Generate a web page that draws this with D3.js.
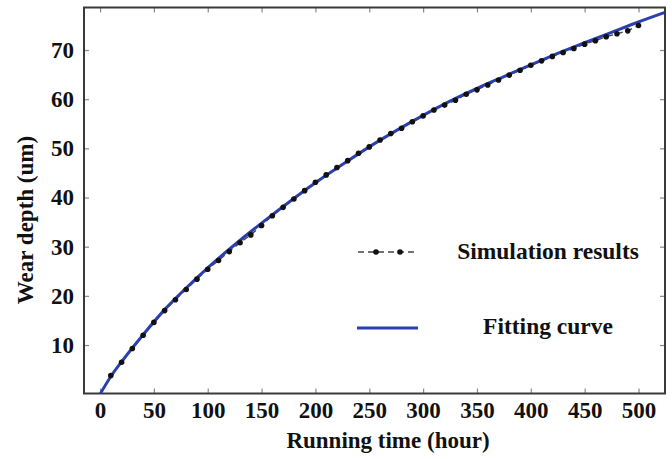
<!DOCTYPE html>
<html>
<head>
<meta charset="utf-8">
<script src="https://cdn.jsdelivr.net/npm/d3@7"></script>
<style>
  html, body { margin: 0; padding: 0; background: #fff; }
  svg { display: block; }
  text { font-family: "Liberation Serif", serif; font-weight: bold; fill: #111; }
</style>
</head>
<body>
<svg id="chart" width="672" height="459"></svg>
<script>
// ---- data ----
const simTime  = [10,20,30,40,50,60,70,80,90,100,110,120,130,140,150,160,170,180,190,200,
                  210,220,230,240,250,260,270,280,290,300,310,320,330,340,350,360,370,380,390,400,
                  410,420,430,440,450,460,470,480,490,500];
const simDepth = [3.8,6.5,9.3,12.0,14.6,17.0,19.2,21.3,23.4,25.4,27.2,29.0,30.8,32.4,34.3,36.3,38.0,39.7,41.4,43.1,
                  44.6,46.1,47.5,49.0,50.3,51.7,53.0,54.1,55.4,56.6,57.8,58.8,59.8,61.0,61.9,62.9,63.9,64.9,65.9,66.9,
                  67.8,68.7,69.5,70.3,71.2,71.9,72.7,73.3,73.9,75.0];
const fitTime  = [0,10,20,40,60,80,100,125,150,175,200,225,250,275,300,325,350,375,400,425,450,475,500,524];
const fitDepth = [0,3.6,6.6,12.1,17.2,21.6,25.7,30.4,34.8,39.0,43.0,46.7,50.3,53.6,56.7,59.6,62.2,64.6,67.0,69.3,71.5,73.6,75.7,77.6];
const xTickValues = [0,50,100,150,200,250,300,350,400,450,500];
const yTickValues = [10,20,30,40,50,60,70];
const seriesNames = ["Simulation results", "Fitting curve"];
const xTitle = "Running time (hour)";
const yTitle = "Wear depth (um)";

// ---- layout ----
const L = 84, R = 665, T = 7.5, B = 393.5;
const svg = d3.select("#chart");
const x = d3.scaleLinear().domain([-14.9, 524.6]).range([L, R]);
const y = d3.scaleLinear().domain([0.14, 78.65]).range([B, T]);

const blue = "#2b3fae";

function styleAxis(g) {
  g.select(".domain").remove();
  g.selectAll(".tick line").attr("stroke", "#8a8a8a").attr("stroke-width", 1.2);
  g.selectAll(".tick text").style("font-size", "23px").attr("fill", "#111");
}
svg.append("g").attr("transform", `translate(0,${B})`)
  .call(d3.axisBottom(x).tickValues(xTickValues).tickSize(-5).tickPadding(8))
  .call(styleAxis);
svg.append("g").attr("transform", `translate(0,${T})`)
  .call(d3.axisTop(x).tickValues(xTickValues).tickSize(-5).tickFormat(""))
  .call(styleAxis);
svg.append("g").attr("transform", `translate(${L},0)`)
  .call(d3.axisLeft(y).tickValues(yTickValues).tickSize(-5).tickPadding(10))
  .call(styleAxis);
svg.append("g").attr("transform", `translate(${R},0)`)
  .call(d3.axisRight(y).tickValues(yTickValues).tickSize(-5).tickFormat(""))
  .call(styleAxis);

svg.append("rect").attr("x", L).attr("y", T).attr("width", R - L).attr("height", B - T)
  .attr("fill", "none").attr("stroke", "#3a3a3a").attr("stroke-width", 2);

svg.append("clipPath").attr("id", "clip").append("rect")
  .attr("x", L).attr("y", T).attr("width", R - L).attr("height", B - T);

const plot = svg.append("g").attr("clip-path", "url(#clip)");

const simData = simTime.map((t, i) => [t, simDepth[i]]);
const fitData = fitTime.map((t, i) => [t, fitDepth[i]]);

plot.append("path").datum(simData)
  .attr("fill", "none").attr("stroke", "#444").attr("stroke-width", 1.3)
  .attr("stroke-dasharray", "6,4")
  .attr("d", d3.line().x(d => x(d[0])).y(d => y(d[1])));

plot.append("path").datum(fitData)
  .attr("fill", "none").attr("stroke", blue).attr("stroke-width", 3)
  .attr("d", d3.line().curve(d3.curveMonotoneX).x(d => x(d[0])).y(d => y(d[1])));

plot.selectAll("circle.sim").data(simData).enter().append("circle")
  .attr("class", "sim")
  .attr("cx", d => x(d[0])).attr("cy", d => y(d[1])).attr("r", 2.8)
  .attr("fill", "#111");

svg.append("text").attr("x", 388).attr("y", 448).attr("text-anchor", "middle")
  .style("font-size", "23px").text(xTitle);
svg.append("text").attr("transform", "translate(33,220) rotate(-90)").attr("text-anchor", "middle")
  .style("font-size", "23px").text(yTitle);

const lg = svg.append("g");
lg.append("line").attr("x1", 358).attr("x2", 416).attr("y1", 252).attr("y2", 252)
  .attr("stroke", "#444").attr("stroke-width", 1.3).attr("stroke-dasharray", "6,4");
lg.selectAll("circle.lgm").data([376, 400]).enter().append("circle")
  .attr("class", "lgm").attr("cx", d => d).attr("cy", 252).attr("r", 2.8).attr("fill", "#111");
lg.append("text").attr("x", 548).attr("y", 259).attr("text-anchor", "middle")
  .style("font-size", "23.5px").text(seriesNames[0]);
lg.append("line").attr("x1", 357).attr("x2", 418).attr("y1", 328).attr("y2", 328)
  .attr("stroke", blue).attr("stroke-width", 3);
lg.append("text").attr("x", 548).attr("y", 334).attr("text-anchor", "middle")
  .style("font-size", "23.5px").text(seriesNames[1]);
</script>
</body>
</html>
